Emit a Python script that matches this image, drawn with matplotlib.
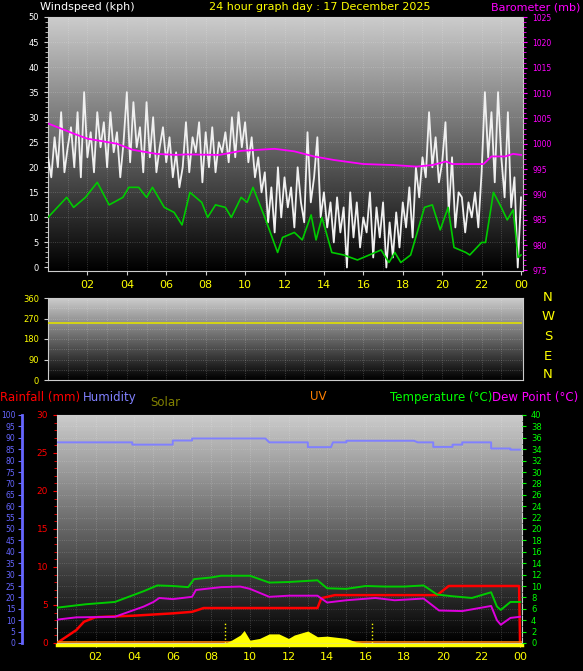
import numpy as np
import matplotlib
matplotlib.use("Agg")
import matplotlib.pyplot as plt
from matplotlib.ticker import MultipleLocator

# ---------------- data ----------------
gust = [22,18,26,20,31,19, 24,28,20,31,18,35, 22,27,19,31,24,29, 20,31,23,27,18,25,
        35,21,33,24,28,19, 33,22,30,19,24,28, 21,26,18,23,16,20, 29,19,26,23,29,17,
        27,20,28,19,25,23, 27,21,30,22,31,24, 29,21,26,18,22,15, 19,9,16,7,20,10,
        18,12,16,8,20,13, 9,27,13,18,26,10, 15,8,13,5,14,7, 12,0,15,6,13,4,
        10,7,15,2,12,6, 13,0,9,2,11,4, 13,8,16,6,20,14, 22,18,31,20,26,17,
        21,29,11,22,8,15, 14,7,13,10,15,8, 19,35,22,31,17,35, 22,14,31,12,18,0, 14]
gust_h = [i/6 for i in range(len(gust))]

avg_h = [0,0.95,1.3,1.9,2.5,3.1,3.8,4.1,4.6,5,5.3,5.9,6.4,6.8,7.2,7.8,8.1,8.5,9,9.3,9.8,10.1,10.4,11,
         11.65,11.9,12.5,12.9,13.35,13.6,13.9,14.4,15,15.7,16.3,16.9,17.3,17.6,17.9,18.4,19.1,19.5,19.9,
         20.3,20.6,21.2,21.4,22,22.2,22.6,23,23.3,23.6,23.85,24]
avg = [10,14,12,14,17,12.5,14,16,16,14,16,12,11,8.5,15,13,10,12.5,12,10,14,13,16,10,
       3,6,7,5.5,10.5,5.5,10,3,2.5,1.5,2.5,3.5,1,3,1,2.5,12,12.5,7.5,
       12,4,3,2.5,5,5,15,12,9.5,11.5,2,2.5]

baro_h = [0,1.3,2,3.5,4.3,5.5,6.5,7,8.7,9.8,11.5,12.5,13.5,14.5,16,17.5,18.7,19.5,20.2,20.5,22.1,22.5,23.2,23.6,24]
baro = [1004,1002,1001,1000,998.8,998,997.8,997.9,997.8,998.6,999,998.5,997.5,996.8,996,995.8,995.5,
        995.8,996.5,996,996,997.5,997.5,998,997.8]

wdir = 249

hum_h = [0,3.9,3.9,6,6,7,7,10.8,11,13,13,14.2,14.3,15,15,18.5,18.7,19.5,19.5,20.5,20.5,21,21,22.5,22.5,23.5,23.5,24]
hum = [88,88,87,87,88.8,88.8,89.7,89.7,88,88,85.9,85.9,88,88,88.7,88.7,88,88,86,86,87,87,88,88,85.3,85.3,84.8,84.8]

temp_h = [0,1.5,3,4.5,5.2,6,6.8,7.1,8,8.5,10,11,12,13.5,14,15,16,17,18,19,19.7,20.5,21.5,22.5,22.8,23,23.5,24]
temp = [6.2,6.8,7.2,9.1,10.1,10.0,9.8,11.2,11.5,11.8,11.8,10.6,10.7,11.0,9.6,9.5,10.0,9.9,9.9,10.1,8.5,8.2,7.9,8.9,6.4,5.8,7.2,7.2]

dew_h = [0,1,3,4.5,5,5.3,6,7,7.2,8.5,9.5,10,11,12,13.5,14,15,16.5,17.5,19,19.8,21,22.5,22.8,23,23.5,24]
dew = [4.1,4.5,4.6,6.4,7.2,7.9,7.7,8.1,9.3,9.8,9.9,9.5,8.1,8.3,8.3,7.1,7.5,7.9,7.5,7.8,5.7,5.6,6.5,4.0,3.2,4.4,4.6]

rain_h = [0,1,1.4,2,4,6,7,7.6,13.5,13.7,14.4,19.7,20.3,23.95,24]
rain = [0,1.7,2.8,3.4,3.6,3.9,4.1,4.6,4.6,5.9,6.3,6.3,7.5,7.5,0]

solar_h = [8.7,9.0,9.5,9.7,10,10.5,11,11.5,12,12.3,13,13.5,14,15,15.5,16]
solar = [0,0.4,1.4,2.2,0.5,0.8,1.6,1.6,0.8,1.4,2.1,1.1,1.2,0.8,0.2,0]
sun_events = [8.7, 16.3]

hours = list(range(2, 25, 2))
hour_labels = ["02","04","06","08","10","12","14","16","18","20","22","00"]

# ---------------- figure ----------------
W, H = 583, 671
fig = plt.figure(figsize=(W/100, H/100), dpi=100, facecolor="black")

grad = np.linspace(0.80, 0.0, 256).reshape(-1, 1)

def bg(ax):
    ax.set_facecolor("black")
    ax.imshow(grad, cmap="gray", vmin=0, vmax=1, aspect="auto",
              extent=[0, 1, 0, 1], transform=ax.transAxes, zorder=0)
    for s in ax.spines.values():
        s.set_color("#cccccc")
    ax.set_xlim(0, 24.1)
    ax.set_xticks(hours)
    ax.set_xticklabels(hour_labels, color="yellow", fontsize=8)
    ax.xaxis.set_minor_locator(MultipleLocator(1))
    ax.tick_params(axis="x", colors="#cccccc", labelcolor="yellow", length=3)
    for h in range(1, 24):
        ax.axvline(h, color="#ffffff", alpha=0.25, lw=0.6, ls=":", zorder=1)

def fx(px): return px / W
def fy(py): return 1 - py / H

# top panel
ax1 = fig.add_axes([fx(48), fy(271), fx(475), (271-17)/H])
bg(ax1)
ax1.set_ylim(-0.7, 50)
ax1.set_yticks(range(0, 51, 5))
ax1.yaxis.set_minor_locator(MultipleLocator(1))
ax1.tick_params(axis="y", colors="#cccccc", labelcolor="white", labelsize=6, length=3)
ax1.tick_params(axis="y", which="minor", length=2, colors="#cccccc")
for v in range(5, 51, 5):
    ax1.axhline(v, color="white", alpha=0.25, lw=0.6, ls=":", zorder=1)
ax1.plot(gust_h, gust, color="#f0f0f0", lw=1.3, zorder=3)
ax1.plot(avg_h, avg, color="#00cc00", lw=1.2, zorder=4)
axb = ax1.twinx()
axb.set_ylim(974.9, 1025)
axb.set_yticks(range(975, 1026, 5))
axb.yaxis.set_minor_locator(MultipleLocator(1))
axb.tick_params(axis="y", colors="#ff00ff", labelcolor="#ff00ff", labelsize=5.5, length=3)
axb.tick_params(axis="y", which="minor", length=2, colors="#ff00ff")
for s in axb.spines.values():
    s.set_visible(False)
axb.plot(baro_h, baro, color="#ff00ff", lw=1.3, zorder=5)

fig.text(fx(40), fy(7), "Windspeed (kph)", color="white", fontsize=8, va="center")
fig.text(fx(320), fy(7), "24 hour graph day : 17 December 2025", color="yellow", fontsize=8, va="center", ha="center")
fig.text(fx(580), fy(7), "Barometer (mb)", color="#ff00ff", fontsize=8, va="center", ha="right")

# middle panel
ax2 = fig.add_axes([fx(48), fy(380), fx(475), (380-298)/H])
bg(ax2)
ax2.set_xticklabels([])
ax2.tick_params(axis="x", length=0)
ax2.set_ylim(0, 360)
ax2.set_yticks(range(0, 361, 90))
ax2.tick_params(axis="y", colors="#cccccc", labelcolor="yellow", labelsize=6, length=3)
for v in range(45, 361, 45):
    ax2.axhline(v, color="white", alpha=0.25, lw=0.6, ls=":", zorder=1)
ax2.plot([0, 24], [wdir, wdir], color="#e0e000", lw=1.2, zorder=3)
for lab, py in zip("NWSEN", [297, 316, 336, 356, 375]):
    fig.text(fx(548), fy(py), lab, color="yellow", fontsize=9.5, va="center", ha="center")

# bottom panel
ax3 = fig.add_axes([fx(57), fy(643), fx(465), (643-415)/H])
bg(ax3)
ax3.set_ylim(0, 30)
ax3.set_yticks(range(0, 31, 5))
ax3.yaxis.set_minor_locator(MultipleLocator(1))
ax3.tick_params(axis="y", colors="red", labelcolor="red", labelsize=6.5, length=3)
ax3.tick_params(axis="y", which="minor", colors="red", length=2)
for v in np.arange(1.5, 30.1, 1.5):
    ax3.axhline(v, color="white", alpha=0.2, lw=0.6, ls=":", zorder=1)
ax3.plot(rain_h, rain, color="red", lw=1.8, zorder=6)
ax3.axhline(0.1, color="#ff8000", lw=1.2, zorder=7)
ax3.axhline(-0.25, color="yellow", lw=2.5, zorder=7, clip_on=False)

axt = ax3.twinx()
axt.set_ylim(0, 40)
axt.set_yticks(range(0, 41, 2))
axt.yaxis.set_minor_locator(MultipleLocator(1))
axt.tick_params(axis="y", colors="#00ff00", labelcolor="#00ff00", labelsize=6, length=3)
for s in axt.spines.values():
    s.set_visible(False)
axt.plot(temp_h, temp, color="#00cc00", lw=1.4, zorder=5)
axt.plot(dew_h, dew, color="#dd00dd", lw=1.4, zorder=5)
axt.fill_between(solar_h, 0, solar, color="yellow", lw=0, zorder=4)
for h in sun_events:
    axt.plot([h, h], [0, 3.5], color="yellow", lw=1, ls=":", zorder=4)

axh = ax3.twinx()
axh.set_ylim(0, 100)
axh.yaxis.tick_left()
axh.spines["left"].set_position(("outward", 25))
axh.spines["left"].set_color("#6666ff")
axh.spines["left"].set_linewidth(2)
for k in ["right", "top", "bottom"]:
    axh.spines[k].set_visible(False)
axh.set_yticks(range(0, 101, 5))
axh.tick_params(axis="y", colors="#6666ff", labelcolor="#6666ff", labelsize=5.5, length=3, pad=2)
axh.plot(hum_h, hum, color="#8080ff", lw=1.4, zorder=5)

fig.text(fx(0), fy(397), "Rainfall (mm)", color="red", fontsize=8.5, va="center")
fig.text(fx(83), fy(397), "Humidity", color="#8080ff", fontsize=8.5, va="center")
fig.text(fx(150), fy(402), "Solar", color="#808000", fontsize=8.5, va="center")
fig.text(fx(318), fy(397), "UV", color="#ff8000", fontsize=8.5, va="center", ha="center")
fig.text(fx(390), fy(397), "Temperature (°C)", color="#00ff00", fontsize=8.5, va="center")
fig.text(fx(578), fy(397), "Dew Point (°C)", color="#ff00ff", fontsize=8.5, va="center", ha="right")

fig.savefig("out.png", dpi=100, facecolor="black")
